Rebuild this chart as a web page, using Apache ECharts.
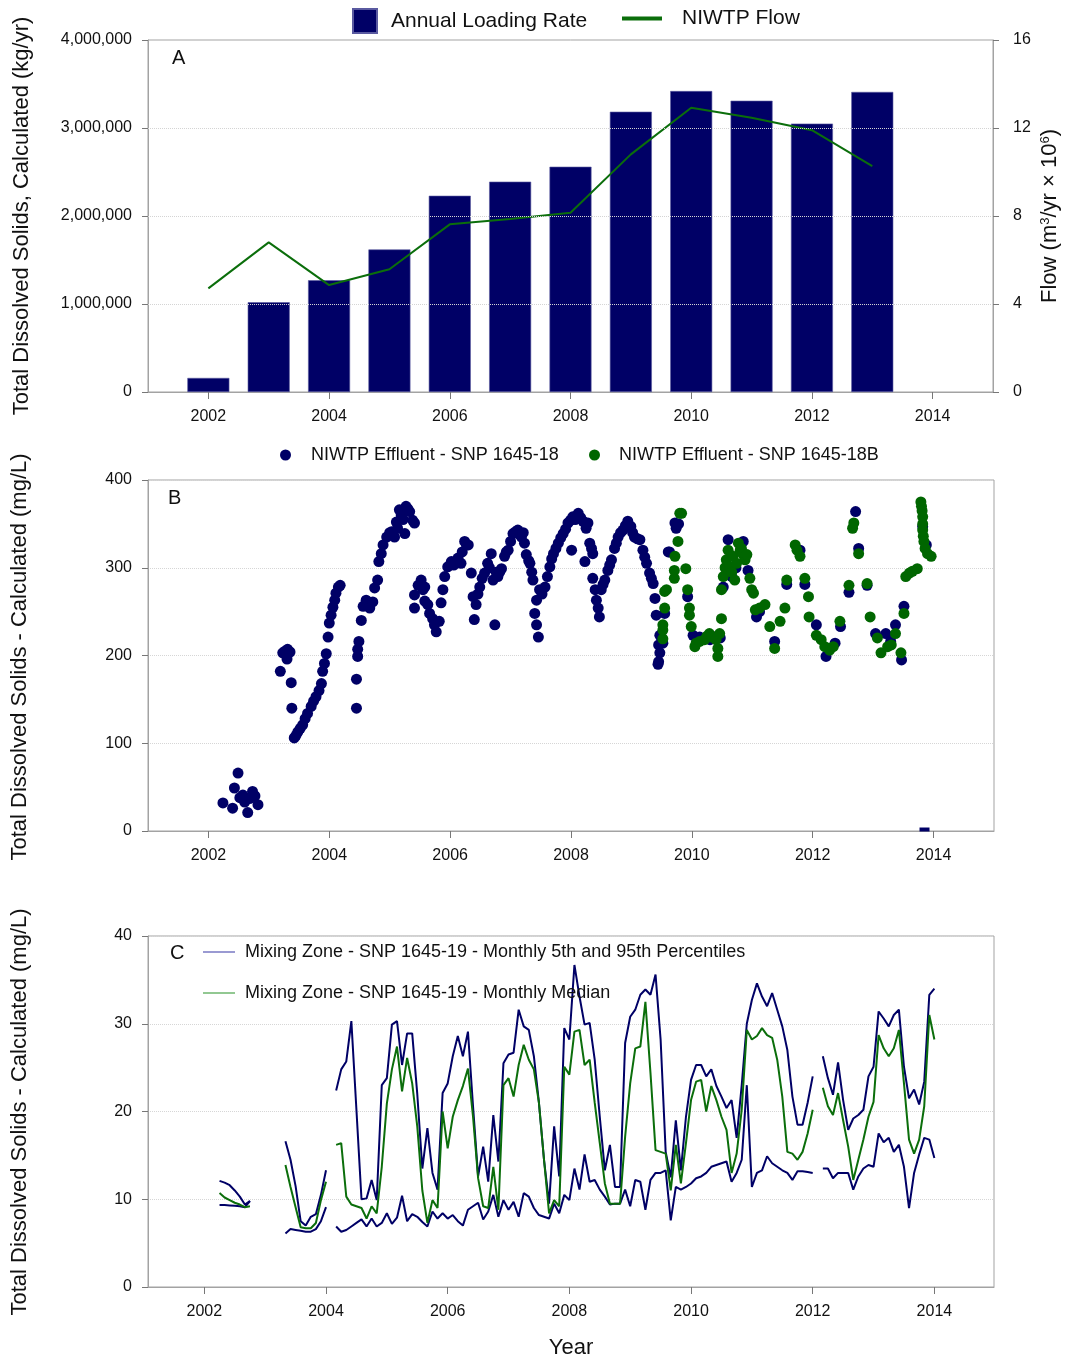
<!DOCTYPE html>
<html><head><meta charset="utf-8">
<script src="https://cdn.jsdelivr.net/npm/echarts@6/dist/echarts.min.js"></script>
<style>html,body{margin:0;padding:0;background:#fff}#chart{width:1065px;height:1360px}</style>
</head><body><div id="chart"></div>
<script>
// ---------- Panel A ----------
const loadYears = [2002, 2003, 2004, 2005, 2006, 2007, 2008, 2009, 2010, 2011, 2012, 2013];
const annualLoading = [160000, 1020000, 1270000, 1620000, 2230000, 2390000, 2560000, 3185000, 3420000, 3310000, 3050000, 3410000];
const niwtpFlow = [4.71, 6.8, 4.86, 5.58, 7.62, 7.86, 8.15, 10.8, 12.92, 12.47, 11.9, 10.27];
const yearTicks = [2002, 2004, 2006, 2008, 2010, 2012, 2014];

// ---------- Panel B : [decimal year, mg/L] ----------
const effluent18 = [
 [2002.24,32],[2002.40,26],[2002.43,49],[2002.49,66],[2002.52,38],[2002.57,41],[2002.60,33],[2002.65,21],[2002.68,37],[2002.73,45],[2002.77,40],[2002.82,30],
 [2003.19,182],[2003.23,203],[2003.27,205],[2003.31,207],[2003.35,204],[2003.30,196],[2003.37,169],[2003.38,140],
 [2003.42,106],[2003.45,109],[2003.48,113],[2003.52,117],[2003.56,121],[2003.60,128],[2003.64,134],[2003.70,142],[2003.74,148],[2003.78,153],[2003.83,160],[2003.87,168],[2003.89,182],[2003.92,191],[2003.95,202],[2003.98,221],[2004.00,237],[2004.03,246],[2004.06,255],[2004.09,263],[2004.11,271],[2004.15,278],[2004.18,280],
 [2004.45,140],[2004.45,173],[2004.47,199],[2004.47,207],[2004.49,216],[2004.53,240],[2004.56,256],[2004.61,263],[2004.64,258],[2004.67,254],[2004.72,261],[2004.75,277],[2004.80,286],[2004.82,307],[2004.86,316],[2004.89,326],[2004.95,335],[2005.00,340],[2005.03,341],[2005.08,335],[2005.11,352],[2005.13,345],[2005.16,366],[2005.19,360],[2005.22,355],[2005.25,339],[2005.27,370],[2005.30,367],[2005.33,364],[2005.38,354],[2005.41,351],
 [2005.41,269],[2005.41,254],[2005.47,280],[2005.52,286],[2005.55,275],[2005.58,278],[2005.58,262],[2005.63,258],[2005.66,248],[2005.71,242],[2005.74,235],[2005.77,227],[2005.82,239],[2005.85,260],[2005.88,275],[2005.91,290],[2005.96,301],[2006.02,307],[2006.06,303],[2006.10,306],[2006.13,311],[2006.18,305],[2006.20,318],[2006.24,330],[2006.27,326],[2006.30,326],
 [2006.35,294],[2006.38,267],[2006.40,241],[2006.43,258],[2006.46,270],[2006.49,278],[2006.53,288],[2006.57,294],[2006.62,305],[2006.65,300],[2006.68,316],[2006.71,286],[2006.74,235],[2006.76,295],[2006.79,290],[2006.82,295],[2006.85,299],[2006.90,313],[2006.93,318],[2006.96,320],[2007.00,330],[2007.04,339],[2007.08,341],[2007.12,343],[2007.15,338],[2007.18,335],[2007.21,340],[2007.23,328],[2007.26,315],[2007.30,308],[2007.32,305],[2007.35,295],[2007.37,286],[2007.40,248],[2007.43,263],[2007.43,235],[2007.46,221],[2007.48,275],[2007.52,270],[2007.57,278],[2007.61,290],[2007.65,301],[2007.68,310],[2007.71,316],[2007.75,322],[2007.79,328],[2007.83,334],[2007.87,339],[2007.91,344],[2007.95,351],[2007.99,354],[2008.01,320],[2008.03,358],[2008.07,355],[2008.12,362],[2008.16,357],[2008.20,353],[2008.23,307],[2008.25,345],[2008.28,351],[2008.31,328],[2008.34,322],[2008.36,316],[2008.36,288],[2008.40,275],[2008.42,263],[2008.45,254],[2008.47,244],[2008.50,275],[2008.53,281],[2008.56,286],[2008.61,297],[2008.64,303],[2008.67,309],[2008.72,322],[2008.75,328],[2008.78,335],[2008.82,340],[2008.86,343],[2008.90,348],[2008.94,353],[2008.99,347],[2009.02,340],[2009.05,335],[2009.10,333],[2009.14,332],[2009.19,320],[2009.22,312],[2009.25,305],[2009.30,294],[2009.33,288],[2009.36,282],[2009.39,265],[2009.41,246],[2009.44,190],[2009.45,212],[2009.47,223],[2009.47,203],[2009.45,193],
 [2009.52,214],[2009.55,248],[2009.61,318],[2009.63,318],[2009.72,351],[2009.74,345],[2009.78,350],[2009.93,267],[2010.02,223],[2010.13,221],[2010.30,218],[2010.38,221],[2010.47,220],[2010.52,278],[2010.57,300],[2010.60,332],[2010.66,290],[2010.73,300],[2010.85,330],[2010.93,297],[2011.07,244],[2011.12,250],[2011.37,216],[2011.57,281],[2011.79,320],[2011.87,281],[2012.06,235],[2012.22,199],[2012.37,214],[2012.46,233],[2012.60,272],[2012.71,364],[2012.76,322],[2012.90,280],[2013.04,225],[2013.21,225],[2013.29,216],[2013.37,235],[2013.47,195],[2013.51,256],[2013.82,347],[2013.88,326]
];
const effluent18Low = [[2013.85, 1.7]];
const effluent18B = [
 [2009.52,219],[2009.52,229],[2009.52,235],[2009.55,254],[2009.55,273],[2009.58,275],[2009.71,288],[2009.71,297],[2009.72,313],[2009.77,330],[2009.80,362],[2009.83,362],[2009.90,299],[2009.93,275],[2009.96,254],[2009.96,246],[2009.99,233],[2010.05,210],[2010.07,214],[2010.13,216],[2010.21,218],[2010.25,222],[2010.29,225],[2010.33,221],[2010.40,218],[2010.43,199],[2010.43,208],[2010.46,225],[2010.49,242],[2010.49,275],[2010.52,290],[2010.55,300],[2010.57,309],[2010.60,320],[2010.63,301],[2010.66,295],[2010.68,313],[2010.71,286],[2010.74,305],[2010.77,328],[2010.80,320],[2010.82,322],[2010.85,315],[2010.88,309],[2010.91,315],[2010.96,288],[2010.99,275],[2011.02,271],[2011.05,252],[2011.12,254],[2011.21,258],[2011.29,233],[2011.37,208],[2011.46,239],[2011.54,254],[2011.57,286],[2011.71,326],[2011.74,320],[2011.79,313],[2011.87,288],[2011.93,267],[2011.94,244],[2012.06,223],[2012.14,218],[2012.20,210],[2012.28,206],[2012.34,210],[2012.45,239],[2012.60,280],[2012.66,345],[2012.68,351],[2012.76,316],[2012.90,282],[2012.95,244],[2013.07,220],[2013.13,203],[2013.24,210],[2013.30,212],[2013.37,225],[2013.46,203],[2013.51,248],[2013.54,290],[2013.60,294],[2013.65,296],[2013.73,299],[2013.79,375],[2013.80,370],[2013.81,365],[2013.82,358],[2013.82,350],[2013.82,343],[2013.83,336],[2013.84,330],[2013.86,322],[2013.90,316],[2013.96,313]
];

// ---------- Panel C : monthly segments ----------
const cSegStart = ['2002-04', '2003-05', '2004-03', '2012-03'];
const cP95 = [
 [12.1, 11.9, 11.6, 11.0, 10.3, 9.4, 9.8],
 [16.6, 14.5, 11.5, 7.5, 7.0, 8.0, 8.3, 10.5, 13.3],
 [22.4, 24.8, 25.7, 30.3, 20.2, 10.0, 10.1, 12.2, 9.9, 23.0, 23.8, 29.9, 30.3, 25.3, 28.9, 28.9, 22.0, 13.5, 18.1, 13.0, 11.1, 22.1, 23.2, 26.3, 28.6, 26.3, 29.1, 20.6, 12.6, 16.0, 12.0, 19.6, 14.3, 25.5, 26.5, 26.7, 31.6, 29.7, 29.3, 26.3, 21.0, 14.5, 9.5, 18.3, 12.6,
  29.5, 28.2, 36.7, 33.1, 29.9, 30.1, 25.9, 19.4, 13.3, 16.2, 11.4, 11.4, 27.8, 30.8, 31.6, 33.3, 33.9, 33.3, 35.6, 28.2, 15.4, 12.5, 19.0, 13.3, 19.4, 23.6, 25.3, 25.3, 24.0, 24.8, 22.9, 21.7, 20.4, 21.3, 17.0, 23.0, 30.0, 32.7, 34.6, 33.1, 32.0, 33.5, 31.6, 29.7, 27.0, 21.7, 18.5, 18.5, 21.0, 24.0],
 [26.3, 23.8, 21.9, 25.6, 21.3, 17.9, 19.2, 19.6, 20.2, 24.0, 25.1, 31.4, 30.6, 29.7, 31.0, 31.6, 25.1, 21.5, 22.5, 20.8, 23.4, 33.3, 34.0]
];
const cP05 = [
 [9.35, 9.35, 9.3, 9.25, 9.2, 9.1, 9.8],
 [6.1, 6.6, 6.5, 6.4, 6.3, 6.3, 6.6, 7.5, 9.1],
 [6.9, 6.3, 6.5, 6.9, 7.3, 7.7, 6.9, 7.8, 6.9, 7.3, 8.4, 7.2, 7.9, 10.4, 7.5, 8.3, 8.0, 7.4, 6.9, 8.6, 7.8, 8.4, 7.8, 8.2, 7.5, 7.0, 8.8, 9.2, 9.6, 7.7, 8.6, 10.5, 8.0, 9.9, 8.8, 9.7, 8.0, 10.7, 10.3, 9.0, 8.2, 8.0, 7.8, 9.5, 8.4,
  10.5, 9.9, 13.5, 11.1, 15.1, 12.0, 12.2, 11.1, 10.3, 9.4, 9.5, 9.5, 11.1, 9.2, 12.2, 12.0, 8.8, 12.2, 13.0, 13.0, 13.3, 7.6, 11.4, 11.1, 11.4, 11.8, 12.4, 12.6, 13.0, 13.7, 13.9, 14.1, 14.3, 12.0, 13.0, 14.5, 23.0, 11.4, 13.0, 13.3, 14.9, 14.1, 13.7, 13.3, 13.0, 12.2, 13.2, 13.2, 13.1, 13.0],
 [13.5, 13.5, 12.4, 13.0, 13.0, 13.0, 11.1, 12.6, 13.5, 13.9, 13.7, 17.5, 16.5, 17.0, 15.4, 16.2, 13.7, 9.0, 13.0, 15.1, 17.0, 16.8, 14.7]
];
const cMedian = [
 [10.7, 10.2, 9.9, 9.6, 9.4, 9.1, 9.2],
 [13.9, 11.4, 9.1, 6.8, 6.7, 6.7, 7.3, 9.9, 12.0],
 [16.2, 16.4, 10.3, 9.4, 9.2, 9.0, 7.8, 9.2, 8.4, 13.7, 20.9, 24.8, 27.4, 22.3, 26.1, 23.2, 18.3, 11.0, 7.3, 9.9, 9.0, 20.0, 15.8, 19.4, 21.3, 22.9, 24.9, 19.4, 12.4, 9.2, 9.0, 13.7, 8.8, 23.0, 23.8, 21.7, 25.3, 27.6, 25.9, 24.8, 21.0, 14.5, 8.4, 9.9, 9.2,
  25.1, 24.2, 29.1, 29.3, 25.3, 25.9, 21.0, 16.4, 11.8, 9.5, 9.5, 9.5, 17.1, 23.2, 27.2, 27.4, 32.5, 24.4, 15.6, 15.4, 15.2, 11.0, 16.2, 11.8, 16.4, 21.3, 23.4, 23.6, 20.0, 22.9, 21.3, 19.4, 17.9, 13.0, 15.2, 20.2, 29.3, 28.2, 28.6, 29.5, 28.7, 28.4, 25.9, 21.7, 15.4, 15.2, 14.5, 15.4, 17.5, 20.2],
 [22.7, 20.6, 19.6, 22.1, 19.0, 16.0, 12.2, 14.5, 16.8, 19.4, 21.1, 28.7, 27.2, 26.3, 27.2, 29.3, 23.2, 16.8, 15.2, 16.8, 20.6, 31.0, 28.2]
];

// build [x,y] series from monthly segments (gap between segments)
function monthly(segs) {
  const out = [];
  segs.forEach((vals, i) => {
    const [yy, mm] = cSegStart[i].split('-').map(Number);
    vals.forEach((v, j) => out.push([yy + (mm - 1 + j) / 12, v]));
    out.push([yy + (mm - 1 + vals.length) / 12, '-']);
  });
  return out;
}

const FONT = 'Liberation Sans, Arial, sans-serif';
const NAVY = '#000066';
const GREEN = '#0b6e0b';
const AXIS = '#a3a3a3';
const PCT_NAME = 'Mixing Zone - SNP 1645-19 - Monthly 5th and 95th Percentiles';
const MED_NAME = 'Mixing Zone - SNP 1645-19 - Monthly Median';

function xAxis(gi, min, max) {
  return {
    gridIndex: gi, type: 'value', min: min, max: max,
    axisLine: { show: true, onZero: false, lineStyle: { color: AXIS } },
    axisTick: { show: true, length: 7, customValues: yearTicks, lineStyle: { color: '#777' } },
    axisLabel: { customValues: yearTicks, fontSize: 16, color: '#111', margin: 17, fontFamily: FONT, formatter: v => String(v) },
    splitLine: { show: false }
  };
}
function yAxis(gi, max, interval, grid, fmt) {
  return {
    gridIndex: gi, type: 'value', min: 0, max: max, interval: interval,
    axisLine: { show: true, onZero: false, lineStyle: { color: AXIS } },
    axisTick: { show: true, length: 6, lineStyle: { color: '#777' } },
    axisLabel: { fontSize: 16, color: '#111', margin: 16, fontFamily: FONT, formatter: fmt },
    splitLine: { show: grid, lineStyle: { type: 'dotted', color: '#d6d6d6' } }
  };
}
const titleStyle = { font: '22px ' + FONT, fill: '#111', textAlign: 'center', textVerticalAlign: 'middle', align: 'center', verticalAlign: 'middle' };

const chart = echarts.init(document.getElementById('chart'), null, { renderer: 'canvas' });
chart.setOption({
  animation: false,
  backgroundColor: '#fff',
  textStyle: { fontFamily: FONT },
  grid: [
    { left: 148, top: 40, width: 845, height: 352, show: true, borderColor: AXIS, borderWidth: 1 },
    { left: 148, top: 480, width: 846, height: 351, show: true, borderColor: AXIS, borderWidth: 1 },
    { left: 148, top: 936, width: 846, height: 351, show: true, borderColor: AXIS, borderWidth: 1 }
  ],
  xAxis: [xAxis(0, 2001, 2015), xAxis(1, 2001, 2015), xAxis(2, 2001.074, 2014.98)],
  yAxis: [
    yAxis(0, 4000000, 1000000, false, v => v.toLocaleString('en-US')),
    Object.assign(yAxis(0, 16, 4, false), { position: 'right', axisLabel: { fontSize: 16, color: '#111', margin: 20, fontFamily: FONT } }),
    yAxis(1, 400, 100, true),
    yAxis(2, 40, 10, true)
  ],
  legend: [
    { data: ['Annual Loading Rate'], left: 347, top: 3, itemWidth: 24, itemHeight: 24, icon: 'rect', selectedMode: false,
      textStyle: { fontSize: 21, color: '#111', fontFamily: FONT, padding: [0, 0, 0, 9] } },
    { data: ['NIWTP Flow'], left: 617, top: 3, itemWidth: 40, itemHeight: 4, icon: 'rect', selectedMode: false,
      textStyle: { fontSize: 21, color: '#111', fontFamily: FONT, padding: [0, 0, 0, 15] } },
    { data: ['NIWTP Effluent - SNP 1645-18'], left: 275, top: 441, itemWidth: 11, itemHeight: 11, icon: 'circle', selectedMode: false,
      textStyle: { fontSize: 18, color: '#111', fontFamily: FONT, padding: [0, 0, 0, 15] } },
    { data: ['NIWTP Effluent - SNP 1645-18B'], left: 584, top: 441, itemWidth: 11, itemHeight: 11, icon: 'circle', selectedMode: false,
      textStyle: { fontSize: 18, color: '#111', fontFamily: FONT, padding: [0, 0, 0, 14] } },
    { data: [{ name: PCT_NAME, itemStyle: { color: '#9a9ad2' } }, { name: MED_NAME, itemStyle: { color: '#92c892' } }],
      orient: 'vertical', left: 198, top: 938, itemWidth: 32, itemHeight: 2, icon: 'rect', itemGap: 23, selectedMode: false,
      textStyle: { fontSize: 18, color: '#111', fontFamily: FONT, padding: [0, 0, 0, 5] } }
  ],
  graphic: [
    { type: 'text', x: 172, y: 48, style: { text: 'A', font: '20px ' + FONT, fill: '#111' } },
    { type: 'text', x: 168, y: 488, style: { text: 'B', font: '20px ' + FONT, fill: '#111' } },
    { type: 'text', x: 170, y: 943, style: { text: 'C', font: '20px ' + FONT, fill: '#111' } },
    { type: 'text', x: 22, y: 216, rotation: Math.PI / 2, style: Object.assign({ text: 'Total Dissolved Solids, Calculated (kg/yr)' }, titleStyle) },
    { type: 'text', x: 1050, y: 216, rotation: Math.PI / 2,
      style: Object.assign({ text: 'Flow (m{s|3}/yr × 10{s|6})', rich: { s: { fontSize: 13, verticalAlign: 'top', fontFamily: FONT, fill: '#111' } } }, titleStyle) },
    { type: 'text', x: 20, y: 657, rotation: Math.PI / 2, style: Object.assign({ text: 'Total Dissolved Solids - Calculated (mg/L)' }, titleStyle) },
    { type: 'text', x: 20, y: 1112, rotation: Math.PI / 2, style: Object.assign({ text: 'Total Dissolved Solids - Calculated (mg/L)' }, titleStyle) },
    { type: 'text', x: 571, y: 1348, style: Object.assign({ text: 'Year' }, titleStyle) }
  ],
  series: [
    { type: 'bar', name: 'Annual Loading Rate', xAxisIndex: 0, yAxisIndex: 0, barWidth: 42,
      data: loadYears.map((y, i) => [y, annualLoading[i]]),
      itemStyle: { color: NAVY, borderColor: '#5a5aa0', borderWidth: 0.6 },
      markLine: { silent: true, symbol: 'none', label: { show: false }, animation: false,
        lineStyle: { type: 'dotted', color: '#d4d4d4', width: 1 },
        data: [{ yAxis: 1000000 }, { yAxis: 2000000 }, { yAxis: 3000000 }] } },
    { type: 'line', name: 'NIWTP Flow', xAxisIndex: 0, yAxisIndex: 1, symbol: 'none',
      data: loadYears.map((y, i) => [y, niwtpFlow[i]]),
      lineStyle: { color: GREEN, width: 2 }, itemStyle: { color: GREEN } },
    { type: 'scatter', name: 'NIWTP Effluent - SNP 1645-18', xAxisIndex: 1, yAxisIndex: 2, symbolSize: 11,
      data: effluent18, itemStyle: { color: NAVY, opacity: 1 } },
    { type: 'scatter', name: 'NIWTP Effluent - SNP 1645-18', xAxisIndex: 1, yAxisIndex: 2, symbol: 'rect', symbolSize: [10, 4],
      data: effluent18Low, itemStyle: { color: NAVY, opacity: 1 } },
    { type: 'scatter', name: 'NIWTP Effluent - SNP 1645-18B', xAxisIndex: 1, yAxisIndex: 2, symbolSize: 11,
      data: effluent18B, itemStyle: { color: '#006600', opacity: 1 } },
    { type: 'line', name: PCT_NAME, xAxisIndex: 2, yAxisIndex: 3, symbol: 'none', data: monthly(cP95),
      lineStyle: { color: NAVY, width: 2 }, itemStyle: { color: NAVY } },
    { type: 'line', name: PCT_NAME, xAxisIndex: 2, yAxisIndex: 3, symbol: 'none', data: monthly(cP05),
      lineStyle: { color: NAVY, width: 2 }, itemStyle: { color: NAVY } },
    { type: 'line', name: MED_NAME, xAxisIndex: 2, yAxisIndex: 3, symbol: 'none', data: monthly(cMedian),
      lineStyle: { color: GREEN, width: 2 }, itemStyle: { color: GREEN } }
  ]
});
</script></body></html>
